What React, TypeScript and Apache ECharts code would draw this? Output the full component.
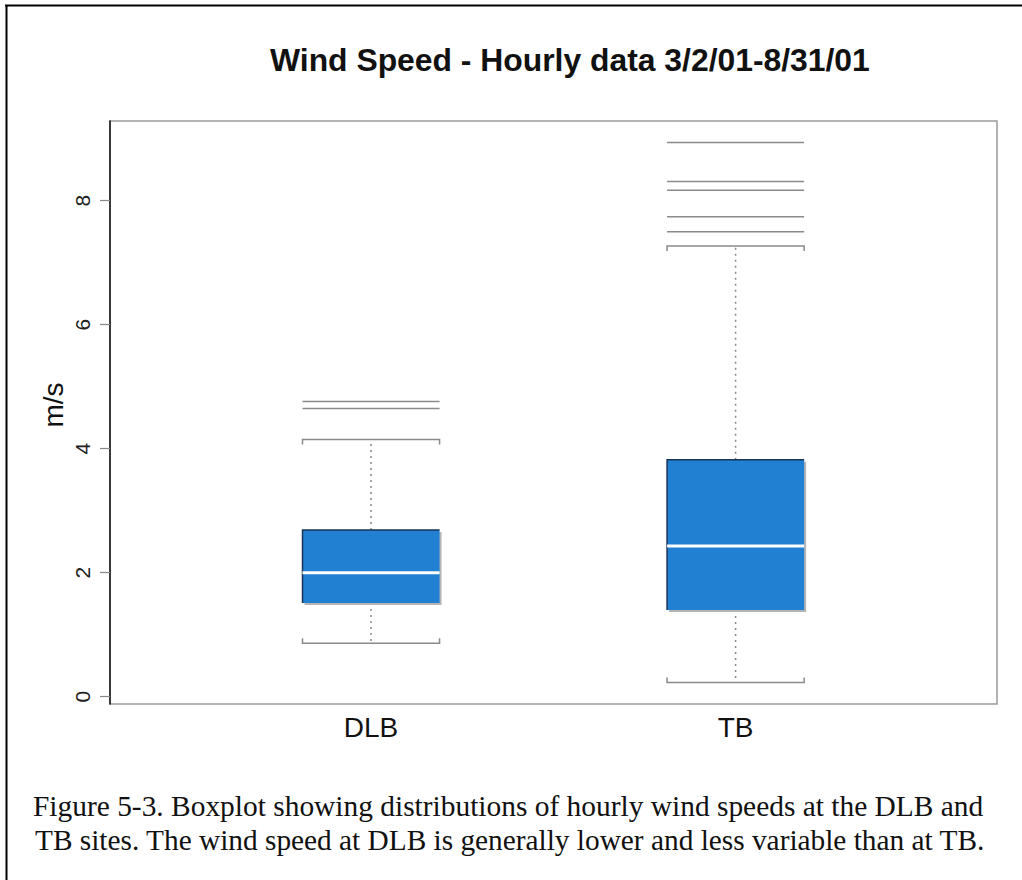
import React, { useEffect, useRef } from "react";
import * as echarts from "echarts";

// ---- data ----
const categories = ["DLB", "TB"];
const lowerWhisker = [0.86, 0.23];
const firstQuartile = [1.51, 1.4];
const medians = [2.0, 2.43];
const thirdQuartile = [2.69, 3.82];
const upperWhisker = [4.15, 7.27];
const dlbOutliers = [4.65, 4.76];
const tbOutliers = [7.5, 7.74, 8.17, 8.31, 8.94];
const yTicks = [0, 2, 4, 6, 8];
const titleText = "Wind Speed - Hourly data 3/2/01-8/31/01";
const yAxisTitle = "m/s";
const captionLines = [
  "Figure 5-3. Boxplot showing distributions of hourly wind speeds at the DLB and",
  "TB sites. The wind speed at DLB is generally lower and less variable than at TB.",
];

const BOX_W = 0.376; // box width in x-axis units
const SANS = '"Liberation Sans", Arial, sans-serif';
const SERIF = '"Liberation Serif", "Times New Roman", serif';

function measure(text: string, font: string): number {
  const c = document.createElement("canvas").getContext("2d");
  if (!c) return 0;
  c.font = font;
  return c.measureText(text).width;
}

export default function App() {
  const ref = useRef<HTMLDivElement>(null);

  useEffect(() => {
    if (!ref.current) return;
    const chart = echarts.init(ref.current, undefined, { renderer: "svg" });

    const boxData = categories.map((_, i) => [
      i + 1,
      lowerWhisker[i],
      firstQuartile[i],
      medians[i],
      thirdQuartile[i],
      upperWhisker[i],
    ]);
    const outlierData = [
      ...dlbOutliers.map((v) => [1, v]),
      ...tbOutliers.map((v) => [2, v]),
    ];

    const titleFont = `bold 31px ${SANS}`;
    const titleW = measure(titleText, titleFont) || 600;
    const titleScale = 600 / titleW;
    const capFont = `30px ${SERIF}`;
    const capTargets = [951, 951];
    const capStarts = [33, 35];
    const capMids = [806, 840];

    const whiskerColor = "#8a8a8a";

    chart.setOption({
      animation: false,
      backgroundColor: "#ffffff",
      grid: {
        left: 110,
        top: 121,
        right: 25,
        bottom: 176,
        show: true,
        borderColor: "#9a9a9a",
        borderWidth: 1.5,
        backgroundColor: "transparent",
      },
      xAxis: {
        type: "value",
        min: 0.284,
        max: 2.717,
        axisLine: { show: false },
        axisTick: { show: false },
        splitLine: { show: false },
        axisLabel: {
          customValues: [1, 2],
          formatter: (v: number) => categories[Math.round(v) - 1] ?? "",
          fontSize: 28,
          fontFamily: SANS,
          color: "#111",
          margin: 9,
        },
      },
      yAxis: {
        type: "value",
        min: -0.118,
        max: 9.285,
        axisLine: { show: true, lineStyle: { color: "#111", width: 1.5 } },
        axisTick: {
          show: true,
          customValues: yTicks,
          length: 10,
          lineStyle: { color: "#888", width: 1.2 },
        },
        splitLine: { show: false },
        axisLabel: {
          customValues: yTicks,
          rotate: 90,
          fontSize: 21,
          fontFamily: SANS,
          color: "#222",
          margin: 17,
        },
      },
      series: [
        {
          type: "custom",
          data: boxData,
          encode: { x: 0, y: [1, 2, 3, 4, 5] },
          clip: false,
          renderItem: (params: any, api: any) => {
            const x = api.value(0);
            const lo = api.value(1);
            const a = api.value(2);
            const m = api.value(3);
            const b = api.value(4);
            const hi = api.value(5);
            const w = api.size([BOX_W, 0])[0];
            const cx = api.coord([x, lo])[0];
            const yLo = api.coord([x, lo])[1];
            const yA = api.coord([x, a])[1];
            const yM = api.coord([x, m])[1];
            const yB = api.coord([x, b])[1];
            const yHi = api.coord([x, hi])[1];
            const l = cx - w / 2;
            const r = cx + w / 2;
            const tick = 5;
            return {
              type: "group",
              children: [
                {
                  type: "line",
                  shape: { x1: cx, y1: yB, x2: cx, y2: yHi },
                  style: { stroke: whiskerColor, lineWidth: 1.5, lineDash: [2, 4] },
                },
                {
                  type: "line",
                  shape: { x1: cx, y1: yA, x2: cx, y2: yLo },
                  style: { stroke: whiskerColor, lineWidth: 1.5, lineDash: [2, 4] },
                },
                {
                  type: "polyline",
                  shape: {
                    points: [
                      [l, yHi + tick],
                      [l, yHi],
                      [r, yHi],
                      [r, yHi + tick],
                    ],
                  },
                  style: { stroke: whiskerColor, lineWidth: 1.5, fill: null },
                },
                {
                  type: "polyline",
                  shape: {
                    points: [
                      [l, yLo - tick],
                      [l, yLo],
                      [r, yLo],
                      [r, yLo - tick],
                    ],
                  },
                  style: { stroke: whiskerColor, lineWidth: 1.5, fill: null },
                },
                {
                  type: "rect",
                  shape: { x: l + 2, y: yB + 2, width: w, height: yA - yB },
                  style: { fill: "#b5b5b5" },
                },
                {
                  type: "rect",
                  shape: { x: l, y: yB, width: w, height: yA - yB },
                  style: { fill: "#2180d1" },
                },
                {
                  type: "polyline",
                  shape: {
                    points: [
                      [l, yA],
                      [l, yB],
                      [r, yB],
                    ],
                  },
                  style: { stroke: "#1b3556", lineWidth: 1.5, fill: null },
                },
                {
                  type: "line",
                  shape: { x1: l, y1: yM, x2: r, y2: yM },
                  style: { stroke: "#ffffff", lineWidth: 3 },
                },
              ],
            };
          },
        },
        {
          type: "custom",
          data: outlierData,
          encode: { x: 0, y: 1 },
          renderItem: (params: any, api: any) => {
            const w = api.size([BOX_W, 0])[0];
            const p = api.coord([api.value(0), api.value(1)]);
            return {
              type: "line",
              shape: { x1: p[0] - w / 2, y1: p[1], x2: p[0] + w / 2, y2: p[1] },
              style: { stroke: whiskerColor, lineWidth: 1.5 },
            };
          },
        },
      ],
      graphic: [
        {
          type: "line",
          shape: { x1: 5, y1: 5.5, x2: 1022, y2: 5.5 },
          style: { stroke: "#000", lineWidth: 2 },
        },
        {
          type: "line",
          shape: { x1: 6.5, y1: 5, x2: 6.5, y2: 880 },
          style: { stroke: "#000", lineWidth: 2 },
        },
        {
          type: "group",
          x: 270,
          y: 61,
          scaleX: titleScale,
          children: [
            {
              type: "text",
              x: 0,
              y: 0,
              style: {
                text: titleText,
                font: titleFont,
                fill: "#111",
                align: "left",
                verticalAlign: "middle",
              },
            },
          ],
        },
        {
          type: "text",
          x: 53,
          y: 405,
          rotation: Math.PI / 2,
          style: {
            text: yAxisTitle,
            font: `28px ${SANS}`,
            fill: "#111",
            align: "center",
            verticalAlign: "middle",
          },
        },
        ...captionLines.map((line, i) => {
          const mw = measure(line, capFont) || capTargets[i];
          return {
            type: "group",
            x: capStarts[i],
            y: capMids[i],
            scaleX: capTargets[i] / mw,
            children: [
              {
                type: "text",
                x: 0,
                y: 0,
                style: {
                  text: line,
                  font: capFont,
                  fill: "#111",
                  align: "left",
                  verticalAlign: "middle",
                },
              },
            ],
          };
        }),
      ],
    });

    return () => chart.dispose();
  }, []);

  return (
    <div
      ref={ref}
      style={{ position: "absolute", left: 0, top: 0, width: 1022, height: 880 }}
    />
  );
}
